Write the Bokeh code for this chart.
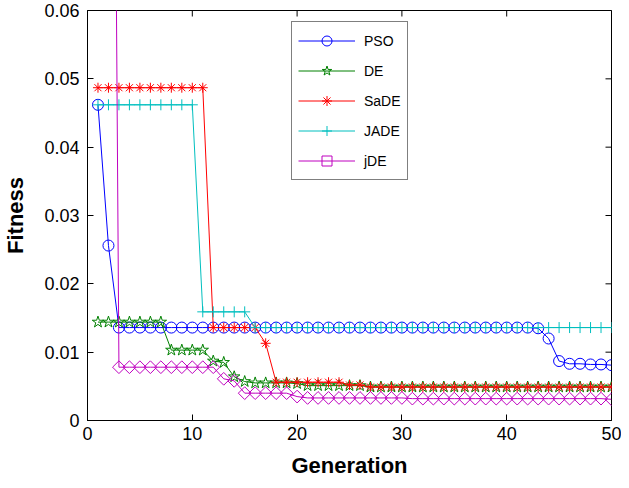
import math
from bokeh.plotting import figure
from bokeh.models import (Range1d, FixedTicker, CustomJSTickFormatter,
                          Legend, LegendItem)
from bokeh.embed import file_html
from bokeh.resources import INLINE

generation = list(range(1, 51))

pso = [0.0462, 0.0256, 0.0136, 0.0136, 0.0136, 0.0136, 0.0136, 0.0136, 0.0136, 0.0136,
       0.0136, 0.0136, 0.0136, 0.0136, 0.0136, 0.0136, 0.0136, 0.0136, 0.0136, 0.0136,
       0.0136, 0.0136, 0.0136, 0.0136, 0.0136, 0.0136, 0.0136, 0.0136, 0.0136, 0.0136,
       0.0136, 0.0136, 0.0136, 0.0136, 0.0136, 0.0136, 0.0136, 0.0136, 0.0136, 0.0136,
       0.0136, 0.0136, 0.0135, 0.0120, 0.0087, 0.0083, 0.0083, 0.0082, 0.0082, 0.0081]

de = [0.0144, 0.0144, 0.0144, 0.0144, 0.0144, 0.0144, 0.0144, 0.0103, 0.0103, 0.0103,
      0.0103, 0.0087, 0.0085, 0.0064, 0.0057, 0.0055, 0.0055, 0.0055, 0.0055, 0.0054,
      0.0051, 0.0051, 0.0051, 0.0051, 0.0051, 0.0051, 0.0049, 0.0049, 0.0049, 0.0049,
      0.0049, 0.0049, 0.0049, 0.0049, 0.0049, 0.0049, 0.0049, 0.0049, 0.0049, 0.0049,
      0.0049, 0.0049, 0.0049, 0.0049, 0.0049, 0.0049, 0.0049, 0.0049, 0.0049, 0.0049]

sade = [0.0487, 0.0487, 0.0487, 0.0487, 0.0487, 0.0487, 0.0487, 0.0487, 0.0487, 0.0487,
        0.0487, 0.0136, 0.0136, 0.0136, 0.0136, 0.0136, 0.0113, 0.0056, 0.0056, 0.0056,
        0.0056, 0.0056, 0.0056, 0.0056, 0.0052, 0.0052, 0.0049, 0.0049, 0.0049, 0.0049,
        0.0049, 0.0049, 0.0049, 0.0049, 0.0049, 0.0049, 0.0049, 0.0049, 0.0049, 0.0049,
        0.0049, 0.0049, 0.0049, 0.0049, 0.0049, 0.0049, 0.0049, 0.0049, 0.0049, 0.0049]

jade = [0.0462, 0.0462, 0.0462, 0.0462, 0.0462, 0.0462, 0.0462, 0.0462, 0.0462, 0.0462,
        0.0159, 0.0159, 0.0159, 0.0159, 0.0159, 0.0136, 0.0136, 0.0136, 0.0136, 0.0136,
        0.0136, 0.0136, 0.0136, 0.0136, 0.0136, 0.0136, 0.0136, 0.0136, 0.0136, 0.0136,
        0.0136, 0.0136, 0.0136, 0.0136, 0.0136, 0.0136, 0.0136, 0.0136, 0.0136, 0.0136,
        0.0136, 0.0136, 0.0136, 0.0136, 0.0136, 0.0136, 0.0136, 0.0136, 0.0136, 0.0136]

jde = [0.2500, 0.2300, 0.0078, 0.0078, 0.0078, 0.0078, 0.0078, 0.0078, 0.0078, 0.0078,
       0.0078, 0.0078, 0.0061, 0.0058, 0.0040, 0.0040, 0.0040, 0.0040, 0.0040, 0.0035,
       0.0033, 0.0033, 0.0033, 0.0033, 0.0033, 0.0033, 0.0033, 0.0033, 0.0033, 0.0033,
       0.0032, 0.0032, 0.0032, 0.0032, 0.0032, 0.0032, 0.0032, 0.0032, 0.0032, 0.0032,
       0.0032, 0.0032, 0.0032, 0.0032, 0.0032, 0.0032, 0.0032, 0.0032, 0.0032, 0.0031]

x_ticks = [0, 10, 20, 30, 40, 50]
y_ticks = [0, 0.01, 0.02, 0.03, 0.04, 0.05, 0.06]
x_lim = (0, 50)
y_lim = (0, 0.06)

FONT = "Liberation Sans"

p = figure(width=621, height=480, x_range=Range1d(*x_lim), y_range=Range1d(*y_lim),
           output_backend="svg", toolbar_location=None,
           min_border_left=84, min_border_right=10, min_border_top=10, min_border_bottom=56)
p.outline_line_color = "black"
p.outline_line_width = 1
p.xgrid.visible = False
p.ygrid.visible = False
p.background_fill_color = "white"
p.border_fill_color = "white"

fmt = CustomJSTickFormatter(code="return String(parseFloat(tick.toFixed(4)));")

for ax in (p.xaxis[0], p.yaxis[0]):
    ax.major_tick_in = 6
    ax.major_tick_out = 0
    ax.minor_tick_line_color = None
    ax.major_label_text_font = FONT
    ax.major_label_text_font_size = "18px"
    ax.major_label_text_color = "black"
    ax.axis_label_text_font = FONT
    ax.axis_label_text_font_size = "22px"
    ax.axis_label_text_font_style = "bold"
    ax.axis_label_text_color = "black"
    ax.axis_line_color = "black"
    ax.major_tick_line_color = "black"

p.xaxis[0].ticker = FixedTicker(ticks=x_ticks)
p.yaxis[0].ticker = FixedTicker(ticks=y_ticks)
p.xaxis[0].formatter = fmt
p.yaxis[0].formatter = fmt
p.xaxis[0].axis_label = "Generation"
p.yaxis[0].axis_label = "Fitness"
p.xaxis[0].major_label_standoff = 6
p.yaxis[0].major_label_standoff = 8
p.xaxis[0].axis_label_standoff = 10
p.yaxis[0].axis_label_standoff = 13

# inward tick marks on the top and right sides of the box (clipped to the frame)
p.scatter(x_ticks, [y_lim[1]] * len(x_ticks), marker="dash", angle=math.pi / 2,
          size=12, line_color="black", line_width=1)
p.scatter([x_lim[1]] * len(y_ticks), y_ticks, marker="dash", angle=0,
          size=12, line_color="black", line_width=1)

series = [
    ("PSO", pso, "#0000ff", "circle", 11, 0),
    ("DE", de, "#008000", "star", 12, 0),
    ("SaDE", sade, "#ff0000", "asterisk", 10, 0),
    ("JADE", jade, "#00bfbf", "cross", 11, 0),
    ("jDE", jde, "#bf00bf", "square", 9, math.pi / 4),
]

items = []
for name, vals, color, marker, size, ang in series:
    ln = p.line(generation, vals, line_color=color, line_width=1)
    sc = p.scatter(generation, vals, marker=marker, size=size, angle=ang,
                   line_color=color, fill_color=None, line_width=1)
    items.append(LegendItem(label=name, renderers=[ln, sc]))

legend = Legend(items=items, location=(204, 240))
legend.border_line_color = "black"
legend.border_line_width = 1
legend.background_fill_color = "white"
legend.background_fill_alpha = 1
legend.padding = 6
legend.margin = 0
legend.spacing = 5
legend.glyph_width = 57
legend.glyph_height = 25
legend.label_height = 25
legend.label_standoff = 9
legend.label_text_font = FONT
legend.label_text_font_size = "14px"
legend.label_text_color = "black"
p.add_layout(legend, "center")

html = file_html(p, INLINE)
open("out.html", "w").write(html)
